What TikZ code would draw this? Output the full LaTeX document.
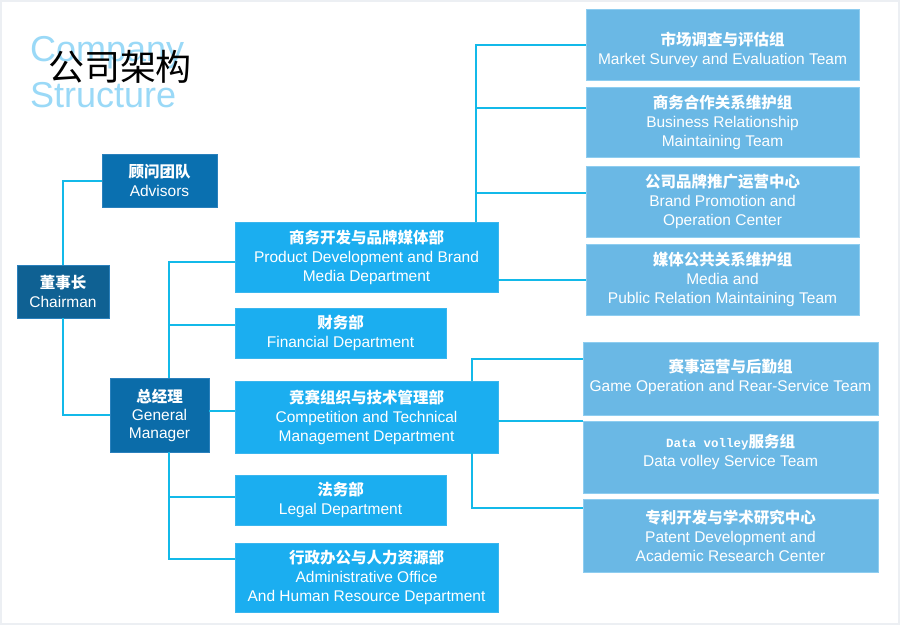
\documentclass[tikz,border=0pt]{standalone}
\usepackage{fontspec}
\setmainfont{Liberation Sans}
\setmonofont{Liberation Mono}
\newfontfamily\cjk{Noto Sans CJK SC}
\definecolor{cDept}{HTML}{1BAEF0}
\definecolor{cDeptB}{HTML}{3AB6EE}
\definecolor{cTeam}{HTML}{6AB8E5}
\definecolor{cTeamB}{HTML}{8ECDF0}
\definecolor{cAdv}{HTML}{0A70B0}
\definecolor{cChair}{HTML}{0F6193}
\definecolor{cGM}{HTML}{0B6CA9}
\definecolor{cDarkB}{HTML}{2A80BC}
\definecolor{cLine}{HTML}{13B9E9}
\definecolor{cTitle}{HTML}{9AD9F7}
\definecolor{cFrame}{HTML}{ECEFF3}
\newcommand{\zh}[1]{{\cjk\bfseries #1}}
\begin{document}
\begin{tikzpicture}[x=1pt,y=-1pt,
  box/.style={draw, line width=0.8pt, text=white, align=center, inner sep=0pt,
    font=\fontsize{15.5}{19}\selectfont},
  darkbox/.style={box, draw=cDarkB},
  deptbox/.style={box, fill=cDept, draw=cDeptB},
  teambox/.style={box, fill=cTeam, draw=cTeamB},
  link/.style={draw=cLine, line width=2pt}]
\useasboundingbox (0,0) rectangle (900,625);
\fill[white] (0,0) rectangle (900,625);
\draw[cFrame, line width=2pt] (1,1) rectangle (899,624);

% title
\node[anchor=base west, inner sep=0pt, text=cTitle, font=\fontsize{36}{36}\selectfont] (tEn1) at (30,61) {Company};
\node[anchor=base west, inner sep=0pt, text=cTitle, font=\fontsize{36}{36}\selectfont] (tEn2) at (30,107) {Structure};
\node[inner sep=0pt, font=\fontsize{36}{36}\selectfont\cjk] (tZh) at (120,67) {公司架构};

% top level
\node[darkbox, fill=cAdv, minimum width=115, minimum height=53] (adv) at (159.5,180.5) {\zh{顾问团队}\\Advisors};
\node[darkbox, fill=cChair, minimum width=92, minimum height=53] (ch) at (63,291.5) {\zh{董事长}\\Chairman};
\node[darkbox, fill=cGM, minimum width=99, minimum height=74, font=\fontsize{15.5}{18}\selectfont] (gm) at (159.5,415) {\zh{总经理}\\General\\Manager};

% departments
\node[deptbox, minimum width=263, minimum height=70] (pd) at (366.5,257) {\zh{商务开发与品牌媒体部}\\Product Development and Brand\\Media Department};
\node[deptbox, minimum width=211, minimum height=50] (fin) at (340.5,333) {\zh{财务部}\\Financial Department};
\node[deptbox, minimum width=263, minimum height=72] (comp) at (366.5,417) {\zh{竞赛组织与技术管理部}\\Competition and Technical\\Management Department};
\node[deptbox, minimum width=211, minimum height=50] (legal) at (340.5,500) {\zh{法务部}\\Legal Department};
\node[deptbox, minimum width=263, minimum height=69] (adm) at (366.5,577.5) {\zh{行政办公与人力资源部}\\Administrative Office\\And Human Resource Department};

% teams
\node[teambox, minimum width=273, minimum height=71] (mk) at (722.5,44.5) {\rule{0pt}{24pt}\zh{市场调查与评估组}\\Market Survey and Evaluation Team};
\node[teambox, minimum width=273, minimum height=70] (biz) at (722.5,122) {\zh{商务合作关系维护组}\\Business Relationship\\Maintaining Team};
\node[teambox, minimum width=273, minimum height=71] (brand) at (722.5,201.5) {\zh{公司品牌推广运营中心}\\Brand Promotion and\\Operation Center};
\node[teambox, minimum width=273, minimum height=71] (media) at (722.5,279.5) {\zh{媒体公共关系维护组}\\Media and\\Public Relation Maintaining Team};
\node[teambox, minimum width=295, minimum height=73] (game) at (730.5,378.5) {\zh{赛事运营与后勤组}\\Game Operation and Rear-Service Team\rule[-7pt]{0pt}{1pt}};
\node[teambox, minimum width=295, minimum height=72] (data) at (730.5,457) {{\ttfamily\bfseries\fontsize{12.5}{19}\selectfont Data volley}\zh{服务组}\\Data volley Service Team\rule[-13.5pt]{0pt}{1pt}};
\node[teambox, minimum width=295, minimum height=73] (pat) at (730.5,535.5) {\zh{专利开发与学术研究中心}\\Patent Development and\\Academic Research Center};

% chairman links
\draw[link] (adv.west) -| (ch.north);
\draw[link] (ch.south) |- (gm.west);

% general manager links
\coordinate (gmTop) at ([xshift=9pt]gm.north);
\coordinate (gmBot) at ([xshift=9pt]gm.south);
\coordinate (pdIn) at ([yshift=-5pt]pd.west);
\coordinate (finIn) at ([yshift=8pt]fin.west);
\coordinate (compIn) at ([yshift=6pt]comp.west);
\coordinate (legIn) at ([yshift=3pt]legal.west);
\coordinate (admIn) at ([yshift=18.5pt]adm.west);
\draw[link] (gmTop) |- (pdIn);
\draw[link] (gmTop |- finIn) -- (finIn);
\draw[link] (gm.east |- compIn) -- (compIn);
\draw[link] (gmBot) |- (admIn);
\draw[link] (gmBot |- legIn) -- (legIn);

% product development links
\coordinate (pdTop) at ([xshift=-22pt]pd.north east);
\coordinate (bizIn) at ([yshift=14pt]biz.west);
\coordinate (brIn) at ([yshift=8.5pt]brand.west);
\draw[link] (pdTop) |- (mk.west);
\draw[link] (pdTop |- bizIn) -- (bizIn);
\draw[link] (pdTop |- brIn) -- (brIn);
\draw[link] (pd.east |- media.west) -- (media.west);

% competition links
\coordinate (cTop) at ([xshift=-26pt]comp.north east);
\coordinate (cBot) at ([xshift=-26pt]comp.south east);
\coordinate (gameIn) at ([yshift=19.5pt]game.west);
\coordinate (dataIn) at ([yshift=-0.5pt]data.north west);
\coordinate (patIn) at ([yshift=27.5pt]pat.west);
\draw[link] (cTop) |- (gameIn);
\draw[link] (comp.east |- dataIn) -- (dataIn);
\draw[link] (cBot) |- (patIn);
\end{tikzpicture}
\end{document}
